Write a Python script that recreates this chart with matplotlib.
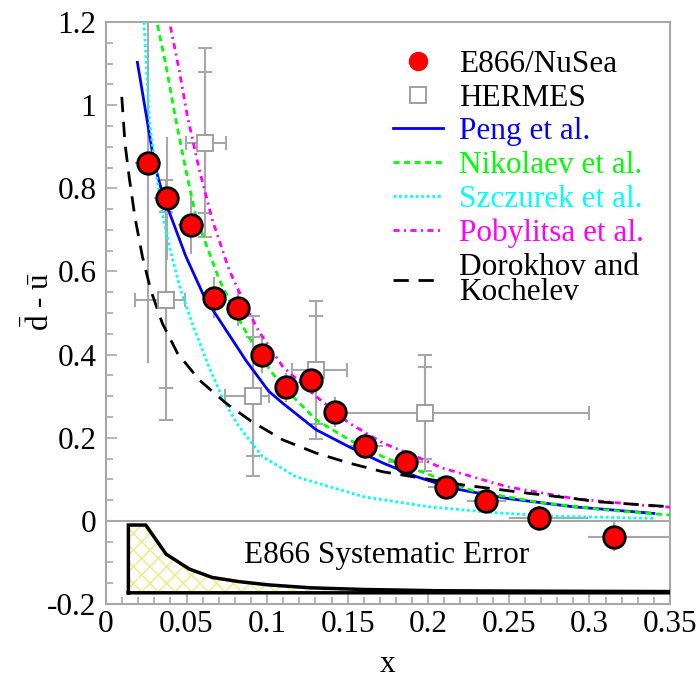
import matplotlib
matplotlib.use('Agg')
import matplotlib.pyplot as plt
import numpy as np
from matplotlib.lines import Line2D

plt.rcParams['font.family'] = 'serif'
plt.rcParams['font.serif'] = ['Liberation Serif', 'Times New Roman', 'Nimbus Roman', 'DejaVu Serif']
plt.rcParams['mathtext.fontset'] = 'custom'
plt.rcParams['mathtext.rm'] = 'Liberation Serif'
plt.rcParams['hatch.linewidth'] = 1.0

# E866/NuSea points
e866_x = [0.026, 0.038, 0.053, 0.067, 0.082, 0.097, 0.112, 0.127, 0.142, 0.161, 0.186, 0.211, 0.236, 0.269, 0.315]
e866_y = [0.86, 0.776, 0.711, 0.537, 0.513, 0.40, 0.321, 0.338, 0.262, 0.181, 0.142, 0.082, 0.048, 0.006, -0.038]
e866_yerr = [0.48, 0.148, 0.068, 0.05, 0.045, 0.045, 0.035, 0.033, 0.036, 0.03, 0.028, 0.027, 0.027, 0.03, 0.035]
e866_xlo = [0.008, 0.008, 0.008, 0.007, 0.007, 0.007, 0.007, 0.007, 0.007, 0.011, 0.011, 0.011, 0.012, 0.019, 0.016]
e866_xhi = [0.008, 0.008, 0.008, 0.007, 0.007, 0.007, 0.007, 0.007, 0.007, 0.011, 0.011, 0.011, 0.012, 0.030, 0.035]

# HERMES points (stat and total errors)
herm_x = [0.0373, 0.0616, 0.0911, 0.1305, 0.198]
herm_y = [0.531, 0.91, 0.30, 0.363, 0.26]
herm_stat = [0.212, 0.17, 0.143, 0.13, 0.11]
herm_tot = [0.288, 0.227, 0.193, 0.165, 0.14]
herm_xlo = [0.019, 0.012, 0.017, 0.015, 0.053]
herm_xhi = [0.012, 0.013, 0.010, 0.019, 0.102]

# model curves
peng_x = [0.0195, 0.030, 0.035, 0.038, 0.0496, 0.061, 0.0745, 0.087, 0.101, 0.1097, 0.1305, 0.151, 0.172, 0.193, 0.2155, 0.249, 0.290, 0.340]
peng_y = [1.103, 0.860, 0.788, 0.756, 0.636, 0.539, 0.459, 0.385, 0.312, 0.283, 0.219, 0.178, 0.139, 0.106, 0.078, 0.054, 0.034, 0.018]

nik_x = [0.032, 0.037, 0.0434, 0.0496, 0.0558, 0.0703, 0.0828, 0.089, 0.1014, 0.1097, 0.1305, 0.151, 0.172, 0.193, 0.228, 0.2695, 0.311, 0.35]
nik_y = [1.193, 1.10, 0.964, 0.844, 0.732, 0.58, 0.483, 0.44, 0.365, 0.323, 0.243, 0.195, 0.154, 0.122, 0.072, 0.044, 0.026, 0.014]

szc_x = [0.0236, 0.027, 0.031, 0.035, 0.040, 0.046, 0.054, 0.064, 0.073, 0.082, 0.097, 0.118, 0.16, 0.20, 0.24, 0.28, 0.34]
szc_y = [1.20, 0.96, 0.84, 0.74, 0.65, 0.56, 0.47, 0.37, 0.29, 0.23, 0.155, 0.106, 0.058, 0.034, 0.02, 0.011, 0.006]

pob_x = [0.040, 0.0454, 0.0506, 0.058, 0.066, 0.0765, 0.087, 0.095, 0.1097, 0.1305, 0.151, 0.172, 0.193, 0.208, 0.249, 0.290, 0.332, 0.35]
pob_y = [1.189, 1.085, 0.972, 0.844, 0.724, 0.603, 0.515, 0.455, 0.371, 0.299, 0.235, 0.187, 0.154, 0.128, 0.082, 0.054, 0.038, 0.033]

dor_x = [0.0098, 0.0118, 0.0145, 0.0180, 0.0226, 0.0278, 0.035, 0.0444, 0.0579, 0.0745, 0.090, 0.1097, 0.1305, 0.151, 0.172, 0.2217, 0.263, 0.290, 0.305, 0.35]
dor_y = [1.02, 0.908, 0.824, 0.73, 0.636, 0.555, 0.475, 0.403, 0.339, 0.283, 0.24, 0.195, 0.163, 0.139, 0.118, 0.0864, 0.066, 0.054, 0.046, 0.034]

# systematic error band
sys_x = [0.0139, 0.0247, 0.0373, 0.0518, 0.0659, 0.0823, 0.101, 0.127, 0.160, 0.206, 0.26, 0.35]
sys_top = [-0.01, -0.01, -0.080, -0.116, -0.136, -0.146, -0.154, -0.161, -0.165, -0.168, -0.169, -0.170]
sys_base = -0.173

fig = plt.figure(figsize=(7, 6.78), dpi=100)
ax = fig.add_axes([0.1514, 0.1091, 0.8057, 0.8584])

gray = '#a8a8a8'
ax.axhline(0, color=gray, lw=1.5, zorder=1)

# systematic band
ax.fill_between(sys_x, sys_base, sys_top, facecolor='white', edgecolor='#f2e880',
                hatch='xx', linewidth=0, zorder=2)
bx = [sys_x[0]] + sys_x + [sys_x[-1], sys_x[0]]
by = [sys_base] + sys_top + [sys_base, sys_base]
ax.plot(bx, by, color='black', lw=2.5, zorder=3, solid_joinstyle='miter')
ax.text(0.174, -0.083, 'E866 Systematic Error', fontsize=22.5, ha='center', va='center', zorder=4)

# error bars
ax.errorbar(e866_x, e866_y, yerr=e866_yerr, xerr=[e866_xlo, e866_xhi], fmt='none',
            ecolor=gray, elinewidth=1.5, zorder=2)
ax.errorbar(herm_x, herm_y, yerr=herm_tot, xerr=[herm_xlo, herm_xhi], fmt='none',
            ecolor=gray, elinewidth=1.5, capsize=4.8, capthick=1.5, zorder=2)
ax.errorbar(herm_x, herm_y, yerr=herm_stat, fmt='none',
            ecolor=gray, elinewidth=1.5, capsize=4.8, capthick=1.5, zorder=2)

# curves
ax.plot(peng_x, peng_y, color='#0000ff', lw=2, zorder=5)
ax.plot(nik_x, nik_y, color='#00ff00', lw=2, dashes=(2.2, 1.6), zorder=5)
ax.plot(szc_x, szc_y, color='#00ffff', lw=2, dashes=(1, 1), zorder=5)
ax.plot(pob_x, pob_y, color='#ff00ff', lw=2, dashes=(2.2, 1.6, 0.7, 1.6), zorder=5)
ax.plot(dor_x, dor_y, color='black', lw=2, dashes=(5.5, 3.5), zorder=5)

ax.plot(herm_x, herm_y, 's', ms=11, mfc='white', mec='#999999', mew=1.3, zorder=6)
ax.plot(e866_x, e866_y, 'o', ms=15.5, mfc='#ff0000', mec='black', mew=2, zorder=7)

ax.set_xlim(0, 0.35)
ax.set_ylim(-0.2, 1.2)
ax.set_xticks(np.arange(0, 0.351, 0.05))
ax.set_xticklabels(['0', '0.05', '0.1', '0.15', '0.2', '0.25', '0.3', '0.35'])
ax.set_xticks(np.arange(0, 0.351, 0.01), minor=True)
ax.set_yticks([-0.2, 0, 0.2, 0.4, 0.6, 0.8, 1.0, 1.2])
ax.set_yticklabels(['-0.2', '0', '0.2', '0.4', '0.6', '0.8', '1', '1.2'])
ax.set_yticks(np.arange(-0.2, 1.201, 0.05), minor=True)
ax.tick_params(which='both', direction='in', colors=gray, labelcolor='black', labelsize=22.5,
               top=False, right=False)
ax.tick_params(which='major', length=8, width=1.2)
ax.tick_params(which='minor', length=5, width=1.2)
ax.tick_params(axis='y', pad=7)
ax.tick_params(axis='x', pad=4)
for s in ax.spines.values():
    s.set_color(gray)
    s.set_linewidth(1.5)

ax.set_xlabel('x', fontsize=22.5, labelpad=8)
ax.set_ylabel(r'$\mathrm{\bar{d}}$ - $\mathrm{\bar{u}}$', fontsize=22.5)
ax.yaxis.set_label_coords(-0.088, 0.52)

handles = [
    Line2D([], [], ls='none', marker='o', ms=13, mfc='#ff0000', mec='#ff0000'),
    Line2D([], [], ls='none', marker='s', ms=11, mfc='white', mec='#999999', mew=1.3),
    Line2D([], [], color='#0000ff', lw=2),
    Line2D([], [], color='#00ff00', lw=2, dashes=(2.2, 1.6)),
    Line2D([], [], color='#00ffff', lw=2, dashes=(1, 1)),
    Line2D([], [], color='#ff00ff', lw=2, dashes=(2.2, 1.6, 0.7, 1.6)),
    Line2D([], [], color='black', lw=2, dashes=(5.5, 3.5)),
]
labels = ['E866/NuSea', 'HERMES', 'Peng et al.', 'Nikolaev et al.', 'Szczurek et al.',
          'Pobylitsa et al.', 'Dorokhov and\nKochelev']
leg = fig.legend(handles, labels, loc='upper left', bbox_to_anchor=(393 / 700, 1 - 50 / 678),
                 frameon=False, fontsize=22.5, handlelength=1.6, handletextpad=0.5,
                 labelspacing=0.15, borderpad=0, borderaxespad=0)
for t, c in zip(leg.get_texts(), ['black', 'black', '#0000ff', '#00ff00', '#00ffff', '#ff00ff', 'black']):
    t.set_color(c)
leg.get_texts()[-1].set_linespacing(0.85)

fig.savefig('out.png', dpi=100)
